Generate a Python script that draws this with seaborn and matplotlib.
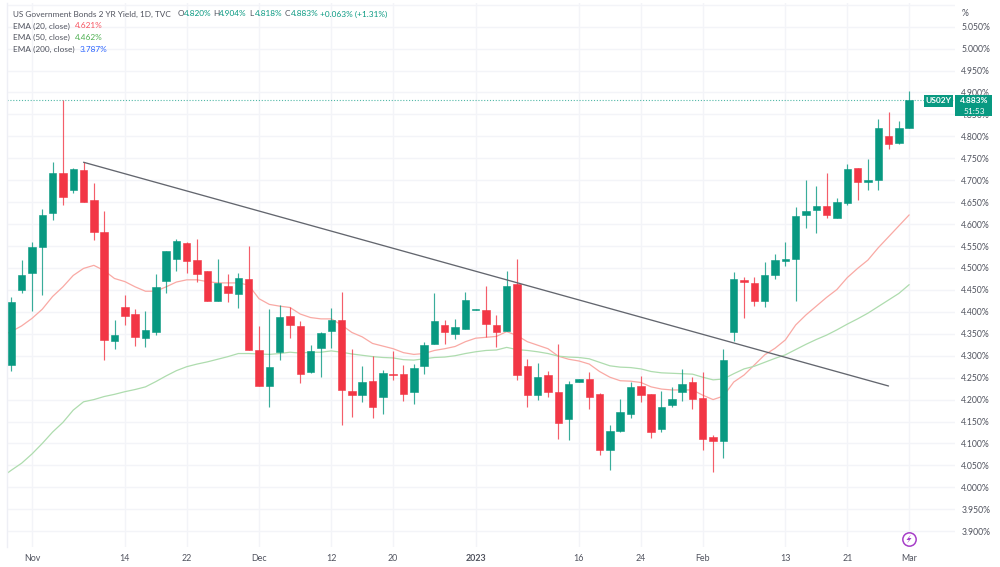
import matplotlib
matplotlib.use("Agg")
import matplotlib.pyplot as plt
from matplotlib.patches import Rectangle, Polygon
import numpy as np
import pandas as pd
import seaborn as sns

# Daily candles for the US 2-year yield, Nov 2022 to Mar 2023 (percent)
opens = [4.279,4.449,4.489,4.547,4.625,4.716,4.678,4.723,4.656,4.581,4.333,4.410,4.396,4.340,4.355,4.471,4.520,4.558,4.518,4.492,4.424,4.458,4.440,4.476,4.312,
         4.231,4.309,4.391,4.367,4.262,4.318,4.357,4.381,4.220,4.210,4.242,4.206,4.259,4.258,4.217,4.276,4.326,4.369,4.350,4.362,4.404,4.405,4.370,4.356,
         4.463,4.277,4.210,4.255,4.218,4.156,4.239,4.247,4.212,4.085,4.128,4.167,4.231,4.213,4.132,4.188,4.218,4.241,4.204,4.114,4.106,4.354,4.473,4.465,
         4.424,4.485,4.515,4.520,4.620,4.633,4.641,4.615,4.649,4.727,4.695,4.701,4.801,4.784,4.820]
highs = [4.433,4.519,4.559,4.634,4.742,4.883,4.729,4.741,4.694,4.631,4.381,4.438,4.407,4.401,4.486,4.539,4.566,4.560,4.566,4.492,4.520,4.486,4.489,4.550,4.368,
         4.407,4.415,4.410,4.380,4.325,4.354,4.408,4.445,4.315,4.277,4.299,4.267,4.311,4.279,4.280,4.331,4.442,4.381,4.383,4.445,4.406,4.460,4.393,4.493,
         4.520,4.292,4.283,4.265,4.327,4.242,4.247,4.263,4.214,4.141,4.201,4.240,4.254,4.213,4.220,4.228,4.270,4.252,4.262,4.119,4.315,4.491,4.480,4.480,
         4.513,4.533,4.559,4.640,4.700,4.687,4.716,4.660,4.737,4.727,4.748,4.839,4.856,4.834,4.904]
lows = [4.266,4.443,4.403,4.438,4.609,4.644,4.672,4.650,4.564,4.290,4.315,4.371,4.322,4.320,4.348,4.444,4.493,4.489,4.469,4.424,4.424,4.423,4.409,4.312,4.231,
        4.182,4.291,4.341,4.237,4.260,4.252,4.318,4.141,4.161,4.195,4.157,4.168,4.245,4.197,4.191,4.259,4.326,4.327,4.339,4.362,4.404,4.342,4.320,4.356,
        4.245,4.184,4.199,4.207,4.111,4.109,4.239,4.178,4.074,4.039,4.125,4.159,4.194,4.112,4.125,4.182,4.197,4.178,4.085,4.036,4.068,4.334,4.387,4.414,
        4.410,4.475,4.505,4.425,4.591,4.580,4.615,4.615,4.644,4.655,4.678,4.678,4.772,4.782,4.818]
closes = [4.422,4.485,4.548,4.621,4.716,4.661,4.725,4.650,4.582,4.336,4.348,4.391,4.342,4.358,4.457,4.538,4.561,4.517,4.486,4.424,4.466,4.443,4.477,4.312,4.231,
          4.274,4.388,4.370,4.258,4.311,4.351,4.381,4.223,4.211,4.239,4.183,4.260,4.257,4.213,4.273,4.325,4.380,4.354,4.365,4.426,4.406,4.373,4.354,4.460,
          4.255,4.210,4.251,4.218,4.147,4.236,4.247,4.207,4.085,4.128,4.172,4.228,4.210,4.127,4.182,4.201,4.236,4.201,4.111,4.105,4.290,4.475,4.467,4.424,
          4.485,4.518,4.520,4.618,4.631,4.641,4.621,4.650,4.726,4.695,4.700,4.818,4.783,4.818,4.883]

# Moving averages at each session close, starting one session before the first candle
ema20 = [4.345,4.355,4.368,4.385,4.406,4.435,4.457,4.483,4.499,4.506,4.494,4.476,4.469,4.457,4.447,4.447,4.457,4.468,4.473,4.473,4.469,4.466,4.466,4.466,4.461,4.430,
         4.417,4.413,4.410,4.395,4.387,4.384,4.384,4.370,4.353,4.343,4.328,4.322,4.316,4.307,4.303,4.305,4.312,4.316,4.321,4.332,4.340,4.342,4.344,4.355,
         4.346,4.332,4.324,4.316,4.299,4.292,4.288,4.281,4.264,4.251,4.243,4.242,4.239,4.229,4.224,4.222,4.222,4.222,4.210,4.200,4.208,4.240,4.256,4.279,
         4.302,4.317,4.336,4.370,4.393,4.413,4.433,4.451,4.478,4.499,4.518,4.546,4.571,4.596,4.621]
ema50 = [4.022,4.039,4.055,4.076,4.100,4.126,4.148,4.176,4.195,4.200,4.207,4.212,4.218,4.223,4.229,4.241,4.254,4.266,4.275,4.281,4.286,4.292,4.298,4.305,4.305,4.304,
         4.303,4.305,4.308,4.306,4.308,4.308,4.311,4.308,4.304,4.301,4.298,4.296,4.295,4.291,4.290,4.293,4.296,4.297,4.300,4.305,4.309,4.312,4.313,4.319,
         4.314,4.312,4.309,4.305,4.299,4.297,4.296,4.293,4.285,4.277,4.274,4.273,4.270,4.264,4.261,4.260,4.259,4.258,4.251,4.245,4.247,4.259,4.270,4.276,
         4.285,4.294,4.302,4.314,4.326,4.337,4.347,4.359,4.372,4.384,4.397,4.412,4.427,4.442,4.462]

# Hand-drawn trend line: session index and yield at each end
trend_x = [7, 85]
trend_y = [4.741, 4.231]

date_tick_pos = [2, 11, 17, 24, 31, 37, 45, 55, 61, 67, 75, 81, 87]
date_tick_labels = ["Nov", "14", "22", "Dec", "12", "20", "2023", "16", "24", "Feb", "13", "21", "Mar"]
price_ticks = [3.90, 3.95, 4.00, 4.05, 4.10, 4.15, 4.20, 4.25, 4.30, 4.35, 4.40, 4.45, 4.50,
               4.55, 4.60, 4.65, 4.70, 4.75, 4.80, 4.85, 4.90, 4.95, 5.00, 5.05]
grid_levels = price_ticks + [5.10]

UP = "#089981"
DOWN = "#f23645"
GRID = "#f3f4f8"
TEXT = "#50535e"

sns.set_theme(style="white")
plt.rcParams["font.family"] = ["Lato", "DejaVu Sans"]

W, H = 1000, 567
fig = plt.figure(figsize=(W / 100, H / 100), dpi=100, facecolor="white")
ax = fig.add_axes([7 / W, 1 - 547 / H, 948 / W, 544 / H])

df = pd.DataFrame({"session": np.arange(len(opens)), "open": opens, "high": highs, "low": lows, "close": closes})
df["up"] = df["close"] >= df["open"]
df["color"] = np.where(df["up"], UP, DOWN)
ema_df = pd.DataFrame({"session": np.arange(-1, len(opens)), "ema20": ema20, "ema50": ema50})

# Grid sits under everything
ax.set_axisbelow(True)
ax.hlines(grid_levels, -1, 95, color=GRID, lw=1, zorder=0)
ax.vlines(date_tick_pos, 3, 6, color=GRID, lw=1, zorder=0)

# EMA curves run behind the candles
sns.lineplot(data=ema_df, x="session", y="ema20", ax=ax, color="#f9a9a4", lw=0.9, zorder=2, legend=False)
sns.lineplot(data=ema_df, x="session", y="ema50", ax=ax, color="#aedcae", lw=0.9, zorder=2, legend=False)

# Candles: wick then body
ax.vlines(df["session"], df["low"], df["high"], colors=df["color"], lw=0.85, alpha=0.8, zorder=3)
ax.bar(df["session"], (df["close"] - df["open"]).abs(), bottom=df[["open", "close"]].min(axis=1),
       width=0.72, color=df["color"], edgecolor=df["color"], linewidth=0.4, zorder=4)

# Trend line and last-price marker
ax.plot(trend_x, trend_y, color="#63666e", lw=0.95, zorder=5)
ax.axhline(closes[-1], color=UP, lw=0.8, ls=(0, (1, 1.6)), alpha=0.7, zorder=1)

ax.set_xlim(-0.417, 91.44)
ax.set_ylim(3.864, 5.104)
ax.set_xlabel("")
ax.set_ylabel("")

ax.yaxis.tick_right()
ax.set_yticks(price_ticks)
ax.set_yticklabels([f"{p:.3f}%" for p in price_ticks], fontsize=6.2, color=TEXT)
ax.set_xticks(date_tick_pos)
ax.set_xticklabels(date_tick_labels, fontsize=6.4, color=TEXT)
for lab in ax.get_xticklabels():
    if lab.get_text() == "2023":
        lab.set_fontweight("bold")
ax.tick_params(axis="y", length=0, pad=4.5)
ax.tick_params(axis="x", length=0, pad=5)

for side in ("top", "right", "bottom"):
    ax.spines[side].set_visible(False)
ax.spines["left"].set_color("#eeeff5")
ax.spines["left"].set_linewidth(1)


def px_text(x, y, s, color=TEXT, **kw):
    """Place a label by figure pixel, y measured from the top."""
    kw.setdefault("fontsize", 5.95)
    kw.setdefault("va", "center")
    return fig.text(x / W, 1 - y / H, s, color=color, **kw)


def px_rect(x0, y0, x1, y1, color):
    fig.add_artist(Rectangle((x0 / W, 1 - y1 / H), (x1 - x0) / W, (y1 - y0) / H,
                             transform=fig.transFigure, facecolor=color, edgecolor="none", zorder=3))


# Header lines
px_text(13, 14, "US Government Bonds 2 YR Yield, 1D, TVC")
for x, head, val in [(178, "O", "4.820%"), (213, "H", "4.904%"), (249, "L", "4.818%"), (285, "C", "4.883%")]:
    px_text(x, 14, head)
    px_text(x + 6, 14, val, color=UP)
px_text(320, 14, "+0.063% (+1.31%)", color=UP)
px_text(13, 26, "EMA (20, close)")
px_text(75, 26, "4.621%", color="#f7525f")
px_text(13, 37, "EMA (50, close)")
px_text(75, 37, "4.462%", color="#4caf50")
px_text(13, 49, "EMA (200, close)")
px_text(80, 49, "3.787%", color="#2962ff")

px_text(962, 13, "%", fontsize=6.2)

# Symbol tag and last-price box on the price scale
px_rect(924, 95, 953, 107, UP)
px_text(938.5, 101, "US02Y", color="white", ha="center", fontweight="bold", fontsize=6.0)
px_rect(955, 95, 992, 116, UP)
px_text(974, 100.5, "4.883%", color="white", ha="center", fontweight="bold", fontsize=6.0)
px_text(974, 111, "51:53", color="white", ha="center", fontsize=6.0)

# Lightning badge near the last session
badge = plt.Line2D([909 / W], [1 - 539 / H], marker="o", ms=9.6, mfc="white", mec="#a63fc8", mew=1.1,
                   transform=fig.transFigure, zorder=3)
fig.add_artist(badge)
bolt_px = [(911, 534.5), (906.5, 540), (909, 540), (907, 543.5), (911.5, 538), (909, 538)]
fig.add_artist(Polygon([(x / W, 1 - y / H) for x, y in bolt_px], closed=True, facecolor="#a63fc8",
                       edgecolor="none", transform=fig.transFigure, zorder=4))

fig.savefig("out.png", dpi=100)
